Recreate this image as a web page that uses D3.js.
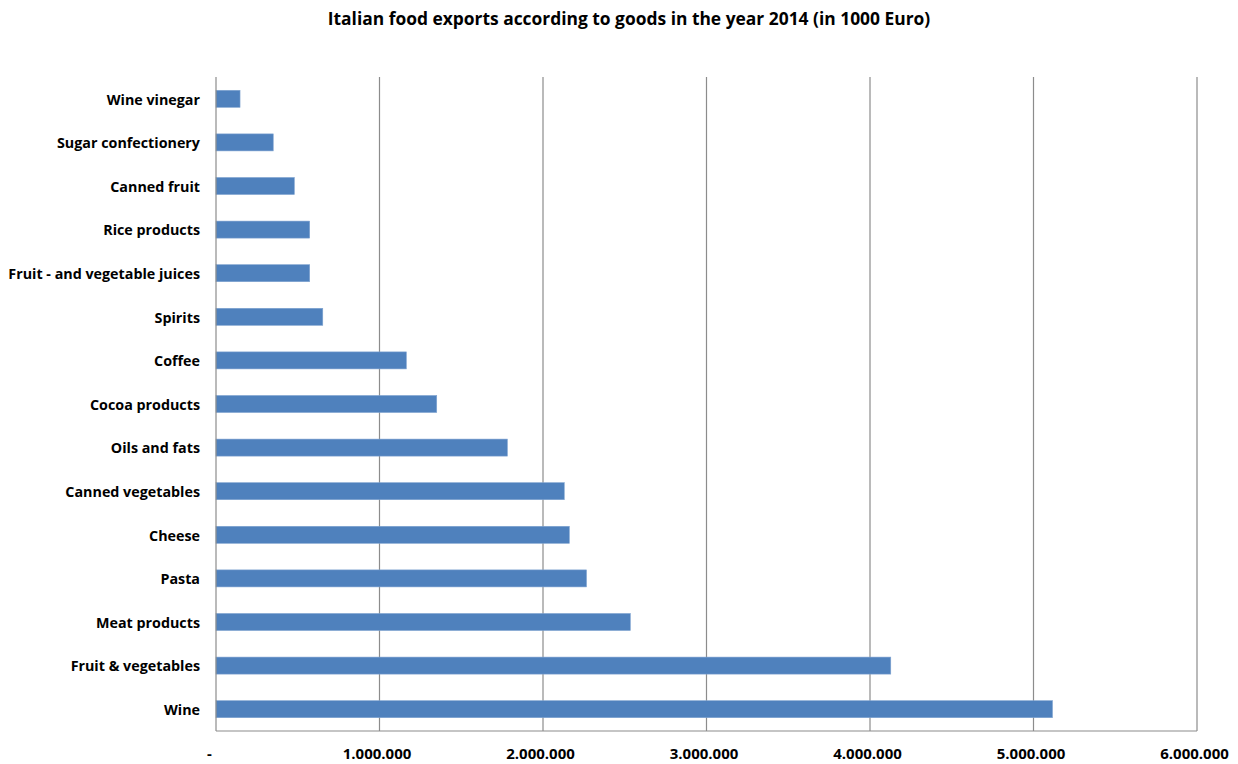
<!DOCTYPE html>
<html>
<head>
<meta charset="utf-8">
<script src="https://cdn.jsdelivr.net/npm/d3@7"></script>
<style>
  html, body { margin: 0; padding: 0; background: #fff; }
  svg { display: block; }
  text { font-family: "Open Sans", Lato, sans-serif; font-weight: bold; fill: #000; }
</style>
</head>
<body>
<svg id="chart" width="1238" height="764"></svg>
<script>
// Export values in thousand euro, top to bottom as listed on the axis
const categories = [
  "Wine vinegar", "Sugar confectionery", "Canned fruit", "Rice products",
  "Fruit - and vegetable juices", "Spirits", "Coffee", "Cocoa products",
  "Oils and fats", "Canned vegetables", "Cheese", "Pasta",
  "Meat products", "Fruit & vegetables", "Wine"
];
const exportValues = [
  147000, 350000, 479000, 573000,
  573000, 653000, 1164000, 1350000,
  1782000, 2130000, 2161000, 2266000,
  2534000, 4127000, 5116000
];
const xTicks = [0, 1000000, 2000000, 3000000, 4000000, 5000000, 6000000];
const xTickLabels = ["-", "1.000.000", "2.000.000", "3.000.000", "4.000.000", "5.000.000", "6.000.000"];
const title = "Italian food exports according to goods in the year 2014 (in 1000 Euro)";

const data = categories.map((c, i) => ({ name: c, value: exportValues[i] }));

const svg = d3.select("#chart");
const margin = { top: 77, right: 41, bottom: 33, left: 216 };
const W = 1238, H = 764;
const innerW = W - margin.left - margin.right;
const innerH = H - margin.top - margin.bottom;

const x = d3.scaleLinear().domain([0, 6000000]).range([0, innerW]);
const y = d3.scaleBand().domain(categories).range([0, innerH]).paddingInner(0.61).paddingOuter(0.305);

const g = svg.append("g").attr("transform", `translate(${margin.left},${margin.top})`);

// Vertical gridlines
g.selectAll("line.grid")
  .data(xTicks.slice(1))
  .enter().append("line")
  .attr("class", "grid")
  .attr("x1", d => x(d)).attr("x2", d => x(d))
  .attr("y1", 0).attr("y2", innerH)
  .attr("stroke", "#8c8c8c").attr("stroke-width", 1.2);

// Bars
g.selectAll("rect.bar")
  .data(data)
  .enter().append("rect")
  .attr("class", "bar")
  .attr("x", 0)
  .attr("y", d => y(d.name))
  .attr("width", d => x(d.value))
  .attr("height", y.bandwidth())
  .attr("fill", "#4f81bd")
  .attr("stroke", "#7fa3d0")
  .attr("stroke-width", 0.6);

// Axis lines
g.append("line")
  .attr("x1", 0).attr("x2", 0).attr("y1", 0).attr("y2", innerH)
  .attr("stroke", "#8c8c8c").attr("stroke-width", 1.2);
g.append("line")
  .attr("x1", 0).attr("x2", innerW).attr("y1", innerH).attr("y2", innerH)
  .attr("stroke", "#8c8c8c").attr("stroke-width", 1.2);

// Category labels
const yAxis = d3.axisLeft(y).tickSize(0).tickPadding(16);
const yAx = g.append("g").call(yAxis);
yAx.select(".domain").remove();
yAx.selectAll("text")
  .style("font-family", "'Open Sans', Lato, sans-serif")
  .style("font-weight", "bold")
  .style("font-size", "14.3px")
  .attr("dy", "0.4em")
  .attr("fill", "#000");

// Value axis labels
const xAxis = d3.axisBottom(x).tickValues(xTicks)
  .tickFormat((d, i) => xTickLabels[i]).tickSize(0).tickPadding(17);
const xAx = g.append("g").attr("transform", `translate(0,${innerH})`).call(xAxis);
xAx.select(".domain").remove();
xAx.selectAll("text")
  .style("font-family", "'Open Sans', Lato, sans-serif")
  .style("font-weight", "bold")
  .style("font-size", "15px")
  .attr("fill", "#000")
  .attr("dx", (d, i) => i === 0 ? -7 : -3);

// Title
svg.append("text")
  .attr("x", 629).attr("y", 25)
  .attr("text-anchor", "middle")
  .style("font-size", "17.4px")
  .text(title);
</script>
</body>
</html>
